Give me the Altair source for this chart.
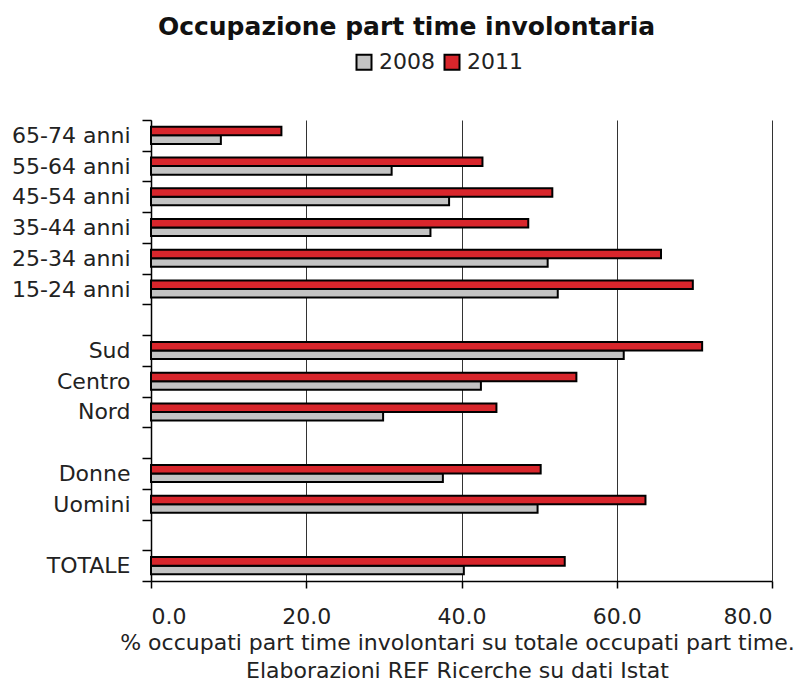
import altair as alt
import pandas as pd

# ---- data ----
categories = ["65-74 anni", "55-64 anni", "45-54 anni", "35-44 anni", "25-34 anni",
              "15-24 anni", " ", "Sud", "Centro", "Nord", "  ", "Donne", "Uomini",
              "   ", "TOTALE"]
groups = ["65-74 anni", "55-64 anni", "45-54 anni", "35-44 anni", "25-34 anni",
          "15-24 anni", "Sud", "Centro", "Nord", "Donne", "Uomini", "TOTALE"]
values_2008 = [9.0, 31.0, 38.4, 36.0, 51.1, 52.4, 60.9, 42.5, 29.9, 37.6, 49.8, 40.3]
values_2011 = [16.8, 42.7, 51.7, 48.6, 65.7, 69.8, 71.0, 54.8, 44.5, 50.2, 63.7, 53.3]
years = ["2008", "2011"]
x_ticks = [0, 20, 40, 60, 80]
title_text = "Occupazione part time involontaria"
x_title = ["% occupati part time involontari su totale occupati part time.",
           "Elaborazioni REF Ricerche su dati Istat"]

rows = []
for g, v08, v11 in zip(groups, values_2008, values_2011):
    rows.append({"category": g, "year": "2008", "value": v08})
    rows.append({"category": g, "year": "2011", "value": v11})
df = pd.DataFrame(rows)

FONT = "DejaVu Sans, Verdana, sans-serif"

chart = alt.Chart(df).mark_bar(stroke="black", strokeWidth=2).encode(
    x=alt.X(
        "value:Q",
        scale=alt.Scale(domain=[0, 80], nice=False, zero=True),
        axis=alt.Axis(
            values=x_ticks, format=".1f", title=x_title,
            grid=True, gridColor="#333333", gridWidth=1,
            domainColor="black", domainWidth=1.5,
            tickColor="black", tickSize=7, tickWidth=1.5,
            labelFont=FONT, labelFontSize=22, labelColor="#222222", labelPadding=18,
            titleFont=FONT, titleFontSize=22, titleFontWeight="normal",
            titleColor="#222222", titlePadding=5, titleLineHeight=28,
            titleX=306, titleAlign="center",
        ),
    ),
    y=alt.Y(
        "category:N",
        scale=alt.Scale(domain=categories, paddingInner=0, paddingOuter=0),
        axis=alt.Axis(
            title=None, grid=False, tickBand="extent",
            domainColor="black", domainWidth=1.5,
            tickColor="black", tickSize=9, tickWidth=1.5,
            labelFont=FONT, labelFontSize=22, labelColor="#222222", labelPadding=12,
        ),
    ),
    yOffset=alt.YOffset(
        "year:N",
        scale=alt.Scale(domain=["2011", "2008"], paddingInner=0, paddingOuter=0.8),
    ),
    color=alt.Color(
        "year:N",
        scale=alt.Scale(domain=years, range=["#c3c3c3", "#d8262c"]),
        legend=alt.Legend(
            title=None, orient="none", direction="horizontal",
            legendX=202, legendY=-69, padding=0,
            symbolType="square", symbolSize=225, symbolStrokeColor="black",
            symbolStrokeWidth=2, symbolOpacity=1,
            labelFont=FONT, labelFontSize=22, labelColor="#222222",
            labelOffset=4, columnPadding=5,
        ),
    ),
).properties(
    width=621,
    height=461,
    title=alt.TitleParams(
        text=title_text, font=FONT, fontSize=25, fontWeight="bold",
        color="#111111", anchor="middle", dx=-55, dy=25, frame="group",
        baseline="alphabetic", offset=16,
    ),
    padding={"left": 143, "top": 112, "right": 25, "bottom": 102},
    autosize=alt.AutoSizeParams(type="none"),
    background="white",
).configure_view(stroke=None)

chart.save("out.html", embed_options={"renderer": "svg", "actions": False})
